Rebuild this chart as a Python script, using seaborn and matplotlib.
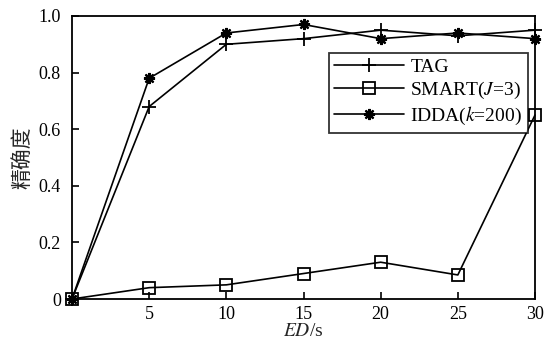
import matplotlib
matplotlib.use("Agg")
import matplotlib.pyplot as plt
import seaborn as sns
import pandas as pd

ed = [0, 5, 10, 15, 20, 25, 30]
tag = [0.0, 0.68, 0.90, 0.92, 0.95, 0.93, 0.95]
smart = [0.0, 0.04, 0.05, 0.09, 0.13, 0.085, 0.65]
idda = [0.0, 0.78, 0.94, 0.97, 0.92, 0.94, 0.92]
xticks = [5, 10, 15, 20, 25, 30]
yticks = [0, 0.2, 0.4, 0.6, 0.8, 1.0]
ytick_labels = ["0", "0.2", "0.4", "0.6", "0.8", "1.0"]

sns.set_theme(style="white")
plt.rcParams["font.family"] = ["Liberation Serif", "Noto Sans CJK SC"]
plt.rcParams["mathtext.fontset"] = "stix"

fig = plt.figure(figsize=(5.44, 3.44), dpi=100)
ax = fig.add_axes([72/544, 45/344, 463/544, 283/344])

df = pd.DataFrame({"ed": ed, "TAG": tag, "SMART": smart, "IDDA": idda})
common = dict(ax=ax, color="black", lw=1.2, clip_on=False)
sns.lineplot(data=df, x="ed", y="TAG", marker="+", markersize=10,
             markeredgewidth=1.3, markeredgecolor="black", label="TAG", **common)
sns.lineplot(data=df, x="ed", y="SMART", marker="s", markersize=9,
             markerfacecolor="none", markeredgecolor="black",
             markeredgewidth=1.3, label="SMART($J$=3)", **common)
sns.lineplot(data=df, x="ed", y="IDDA", marker=(8, 2, 0), markersize=8,
             markeredgewidth=1.6, markeredgecolor="black",
             label="IDDA($k$=200)", **common)

ax.set_xlim(0, 30)
ax.set_ylim(0, 1.0)
ax.set_xticks(xticks)
ax.set_xticklabels([str(t) for t in xticks], fontsize=13)
ax.set_yticks(yticks)
ax.set_yticklabels(ytick_labels, fontsize=13)
ax.tick_params(direction="in", length=5, width=1.2, color="black",
               bottom=True, left=True, top=False, right=False)
ax.tick_params(axis="y", pad=8)
ax.tick_params(axis="x", pad=5)
for s in ax.spines.values():
    s.set_color("black")
    s.set_linewidth(1.3)
ax.set_xlabel("$ED$/s", fontsize=14, labelpad=0)
ax.set_ylabel("精确度", fontsize=15, family=["Noto Sans CJK SC"], labelpad=4)

leg = ax.legend(loc="upper right", bbox_to_anchor=(0.985, 0.87), fontsize=14,
                frameon=True, fancybox=False, edgecolor="black",
                handlelength=3.6, borderpad=0.3, labelspacing=0.2,
                handletextpad=0.3, borderaxespad=0)
leg.get_frame().set_linewidth(1.3)
for t in leg.get_texts():
    t.set_color("black")
for t in ax.get_xticklabels() + ax.get_yticklabels():
    t.set_color("black")

fig.savefig("out.png", dpi=100)
